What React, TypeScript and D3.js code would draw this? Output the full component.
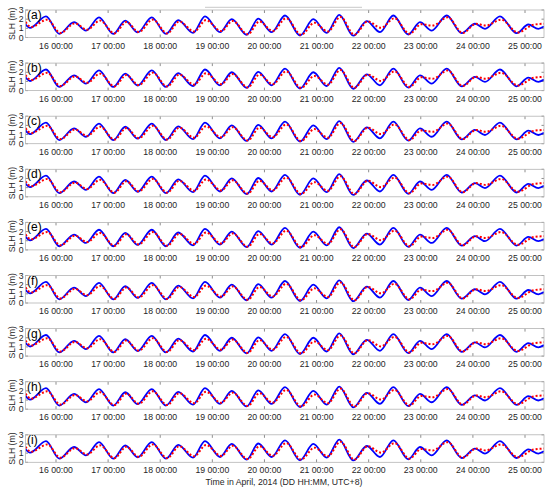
import React from "react";
import * as d3 from "d3";

// hours relative to 2014-04-16 00:00 (UTC+8)
const blueHours = [-14.05, -11.97, -4.61, 1.52, 8.29, 13.82, 19.8, 26.39, 31.92, 37.63, 44.08, 50.66, 56.33, 63.1, 68.62, 75.53, 80.92, 87.83, 93.17, 99.34, 105.47, 112.38, 118.5, 124.67, 130.48, 136.92, 143.1, 149.22, 155.35, 162.26, 167.64, 173.03, 179.94, 186.85, 192.97, 197.58, 204.48, 212.18, 217.52, 222.13, 224.75];
const blueValues = [1.45, 1.05, 2.3, 0.4, 1.67, 0.76, 2.2, 0.4, 1.85, 0.55, 2.2, 0.4, 1.9, 0.5, 2.3, 0.58, 2.0, 0.3, 2.05, 0.58, 2.4, 0.22, 2.0, 0.5, 2.47, 0.2, 1.78, 0.58, 2.4, 0.33, 1.67, 0.76, 2.4, 0.47, 1.5, 0.95, 2.3, 0.47, 1.42, 0.95, 1.2];

const redHours = [-14.05, -11.5, -4.0, 2.0, 8.8, 14.3, 20.3, 26.9, 32.4, 38.1, 44.6, 51.2, 56.8, 63.6, 69.1, 76.0, 81.4, 88.3, 93.7, 99.8, 106.0, 112.9, 119.0, 125.2, 131.0, 137.4, 143.6, 149.7, 155.9, 162.8, 168.2, 173.5, 180.4, 187.3, 193.5, 198.0, 205.0, 212.7, 220.0, 224.75];
const redValues = [1.7, 1.15, 1.95, 0.5, 1.55, 0.85, 1.85, 0.45, 1.7, 0.6, 1.95, 0.45, 1.75, 0.65, 1.9, 0.7, 1.8, 0.35, 1.75, 0.7, 2.1, 0.3, 1.6, 0.65, 2.25, 0.3, 1.75, 1.05, 2.1, 0.4, 1.45, 1.3, 2.2, 0.5, 1.5, 1.3, 1.95, 0.55, 1.4, 1.5];

const panelLabels = ["(a)", "(b)", "(c)", "(d)", "(e)", "(f)", "(g)", "(h)", "(i)"];
const tickDays = [16, 17, 18, 19, 20, 21, 22, 23, 24, 25];
const yTicks = [0, 1, 2, 3];

const base = new Date(2014, 3, 16, 0, 0);
const toDate = (h: number) => new Date(base.getTime() + h * 3600 * 1000);

const W = 550;
const H = 490;
const left = 25.5;
const right = 544;
const top0 = 10;
const step = 53.1;
const ph = 27.5;
const font = "Liberation Sans, Arial, Helvetica, sans-serif";

export default function App() {
  const x = d3.scaleTime().domain([toDate(-14.05), toDate(224.75)]).range([left, right]);
  const blue = blueHours.map((h, i) => ({ d: toDate(h), v: blueValues[i] }));
  const red = redHours.map((h, i) => ({ d: toDate(h), v: redValues[i] }));

  return (
    <svg width={W} height={H} style={{ display: "block", position: "absolute", left: 0, top: 0 }}>
      <rect x={0} y={0} width={W} height={H} fill="#fff" />
      <line x1={205} x2={362} y1={7.3} y2={7.3} stroke="#c8c8c8" strokeWidth={1} />
      {panelLabels.map((lab, pi) => {
        const top = top0 + pi * step;
        const bottom = top + ph;
        const y = d3.scaleLinear().domain([0, 3]).range([bottom, top]);
        const line = d3
          .line<{ d: Date; v: number }>()
          .x((p) => x(p.d))
          .y((p) => y(p.v))
          .curve(d3.curveMonotoneX);
        const clipId = `clip${pi}`;
        return (
          <g key={lab}>
            <clipPath id={clipId}>
              <rect x={left} y={top - 2} width={right - left} height={ph + 4} />
            </clipPath>
            {tickDays.map((dd) => {
              const tx = x(new Date(2014, 3, dd, 0, 0));
              return (
                <g key={dd}>
                  <line x1={tx} x2={tx} y1={bottom} y2={bottom - 3} stroke="#707070" strokeWidth={0.8} />
                  <line x1={tx} x2={tx} y1={top} y2={top + 3} stroke="#707070" strokeWidth={0.8} />
                  <text x={tx} y={bottom + 11} fontSize={8.7} fontFamily={font} fill="#262626" textAnchor="middle">
                    {`${dd} 00:00`}
                  </text>
                </g>
              );
            })}
            {yTicks.map((t) => (
              <g key={t}>
                <line x1={left} x2={left + 2.5} y1={y(t)} y2={y(t)} stroke="#707070" strokeWidth={0.8} />
                <line x1={right} x2={right - 2.5} y1={y(t)} y2={y(t)} stroke="#707070" strokeWidth={0.8} />
                <text x={left - 2} y={y(t)} dy="0.35em" fontSize={8.7} fontFamily={font} fill="#262626" textAnchor="end">
                  {t}
                </text>
              </g>
            ))}
            <g clipPath={`url(#${clipId})`}>
              <path d={line(blue) || ""} fill="none" stroke="#0000ff" strokeWidth={1.8} />
              <path d={line(red) || ""} fill="none" stroke="#ff0000" strokeWidth={2} strokeDasharray="2 2" />
            </g>
            <rect x={left} y={top} width={right - left} height={ph} fill="none" stroke="#b4b4b4" strokeWidth={0.8} />
            <text x={27} y={top + 9} fontSize={12} fontFamily={font} fill="#000">
              {lab}
            </text>
            <text
              transform={`translate(12,${top + ph / 2}) rotate(-90)`}
              textAnchor="middle"
              dy="0.35em"
              fontSize={8.7}
              fontFamily={font}
              fill="#262626"
            >
              SLH (m)
            </text>
          </g>
        );
      })}
      <text x={284} y={485} fontSize={8.7} fontFamily={font} fill="#262626" textAnchor="middle">
        Time in April, 2014 (DD HH:MM, UTC+8)
      </text>
    </svg>
  );
}
